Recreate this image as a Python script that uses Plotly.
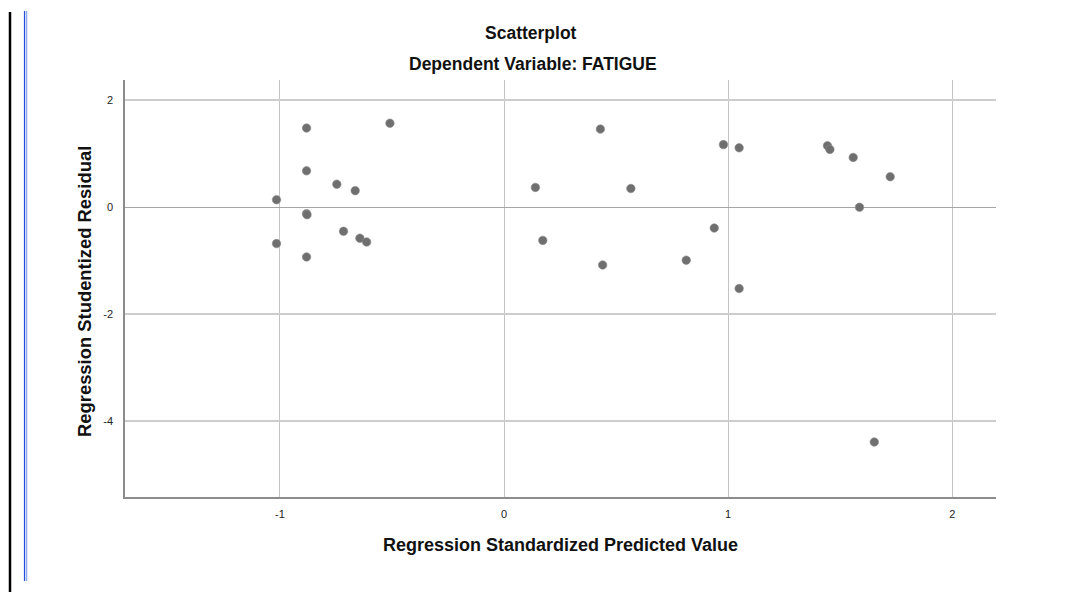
import plotly.graph_objects as go

# Data
pred_std = [-0.881, -0.509, -0.881, -0.746, -0.664, -1.015, -0.881, -0.879, -0.716, -0.643,
            -0.613, -1.015, -0.881, 0.140, 0.173, 0.430, 0.566, 0.440, 0.813, 0.938,
            0.979, 1.049, 1.049, 1.443, 1.454, 1.558, 1.723, 1.586, 1.652]
resid_stud = [1.48, 1.57, 0.68, 0.43, 0.31, 0.14, -0.12, -0.14, -0.45, -0.58,
              -0.65, -0.68, -0.93, 0.37, -0.62, 1.46, 0.35, -1.08, -0.99, -0.39,
              1.17, 1.11, -1.52, 1.15, 1.08, 0.93, 0.57, 0.00, -4.39]
x_ticks = [-1, 0, 1, 2]
y_ticks = [2, 0, -2, -4]

# page has an 8px body margin; work in page pixels and convert
OFF = 8
W, H = 1087 - OFF, 592 - OFF
PLOT_L, PLOT_R, PLOT_T, PLOT_B = 125, 996, 80, 497  # page pixels
L, T = PLOT_L - OFF, PLOT_T - OFF
R, B = W - (PLOT_R - OFF), H - (PLOT_B - OFF)
PW, PH = W - L - R, H - T - B


def px(xp):
    return (xp - OFF - L) / PW


def py(yp):
    return (H - B - (yp - OFF)) / PH


FONT = "Liberation Sans, Arial, sans-serif"

fig = go.Figure()
fig.add_trace(go.Scatter(
    x=pred_std, y=resid_stud, mode="markers",
    marker=dict(size=8.5, color="#6f6f6f", line=dict(color="#8c8c8c", width=0.6)),
    showlegend=False, hoverinfo="x+y",
))

fig.update_layout(
    width=W, height=H,
    margin=dict(l=L, r=R, t=T, b=B, pad=0),
    paper_bgcolor="white", plot_bgcolor="white",
    font=dict(family=FONT, color="#222222"),
    xaxis=dict(range=[-1.691, 2.195], tickvals=x_ticks, ticktext=[str(v) for v in x_ticks],
               showgrid=True, gridcolor="#c4c4c4", gridwidth=1, zeroline=False,
               showline=True, linecolor="#8c8c8c", linewidth=1.5, ticks="",
               tickfont=dict(size=11, family=FONT, color="#222222"), ticklabelstandoff=6),
    yaxis=dict(range=[-5.417, 2.378], tickvals=y_ticks, ticktext=[str(v) for v in y_ticks],
               showgrid=True, gridcolor="#cdcdcd", gridwidth=1.5, zeroline=True,
               zerolinecolor="#a6a6a6", zerolinewidth=1,
               showline=True, linecolor="#8c8c8c", linewidth=1.5, ticks="",
               tickfont=dict(size=11, family=FONT, color="#222222"), ticklabelstandoff=8),
    annotations=[
        dict(text="<b>Scatterplot</b>", xref="paper", yref="paper", x=px(531), y=py(32.5),
             xanchor="center", yanchor="middle", showarrow=False,
             font=dict(size=17.5, family=FONT, color="#111111")),
        dict(text="<b>Dependent Variable: FATIGUE</b>", xref="paper", yref="paper",
             x=px(533), y=py(64), xanchor="center", yanchor="middle", showarrow=False,
             font=dict(size=17.5, family=FONT, color="#111111")),
        dict(text="<b>Regression Standardized Predicted Value</b>", xref="paper", yref="paper",
             x=px(560), y=py(545), xanchor="center", yanchor="middle", showarrow=False,
             font=dict(size=18, family=FONT, color="#111111")),
        dict(text="<b>Regression Studentized Residual</b>", xref="paper", yref="paper",
             x=px(84), y=py(292), xanchor="center", yanchor="middle", showarrow=False,
             textangle=-90, font=dict(size=18.4, family=FONT, color="#111111")),
    ],
    shapes=[
        dict(type="line", xref="paper", yref="paper", x0=px(10), x1=px(10), y0=py(12), y1=py(592),
             line=dict(color="#000000", width=2.5)),
        dict(type="line", xref="paper", yref="paper", x0=px(24.5), x1=px(24.5), y0=py(11), y1=py(581),
             line=dict(color="#1f4fd8", width=1.2)),
        dict(type="line", xref="paper", yref="paper", x0=px(26.5), x1=px(26.5), y0=py(11), y1=py(581),
             line=dict(color="#8fa8f0", width=1.5)),
    ],
)

fig.write_html("out.html")
